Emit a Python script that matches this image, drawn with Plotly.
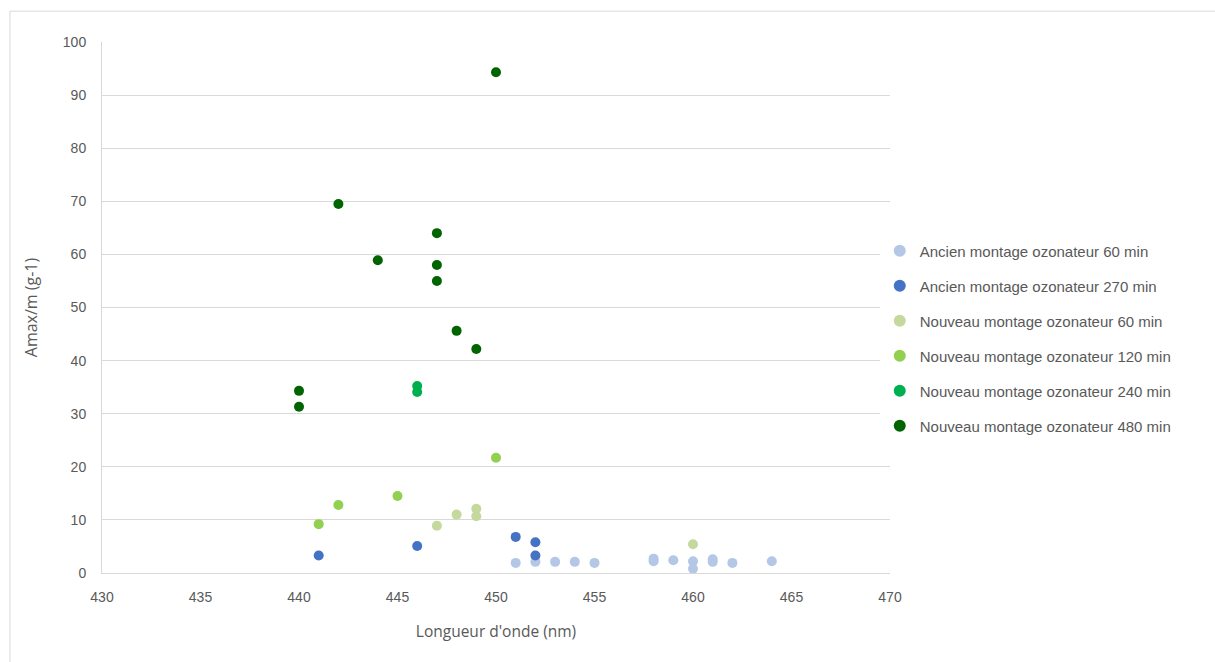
import plotly.graph_objects as go

names = [
    "Ancien montage ozonateur 60 min",
    "Ancien montage ozonateur 270 min",
    "Nouveau montage ozonateur 60 min",
    "Nouveau montage ozonateur 120 min",
    "Nouveau montage ozonateur 240 min",
    "Nouveau montage ozonateur 480 min",
]
colors = ["#B4C7E7", "#4472C4", "#C5D99E", "#92D050", "#00B050", "#006400"]

a60_x = [451, 452, 453, 454, 455, 458, 458, 459, 460, 460, 461, 461, 462, 464]
a60_y = [1.9, 2.1, 2.1, 2.1, 1.9, 2.2, 2.7, 2.4, 2.2, 0.8, 2.1, 2.6, 1.9, 2.2]
a270_x = [441, 446, 451, 452, 452]
a270_y = [3.3, 5.1, 6.8, 5.8, 3.3]
n60_x = [447, 448, 449, 449, 460]
n60_y = [8.9, 11.0, 12.1, 10.7, 5.4]
n120_x = [441, 442, 445, 450]
n120_y = [9.2, 12.8, 14.5, 21.7]
n240_x = [446, 446]
n240_y = [35.2, 34.1]
n480_x = [440, 440, 442, 444, 447, 447, 447, 448, 449, 450]
n480_y = [31.3, 34.3, 69.5, 58.9, 64.0, 58.0, 55.0, 45.6, 42.2, 94.3]

xs = [a60_x, a270_x, n60_x, n120_x, n240_x, n480_x]
ys = [a60_y, a270_y, n60_y, n120_y, n240_y, n480_y]

font_fam = "Liberation Sans, Arial"
title_fam = "Open Sans, Liberation Sans"
fig = go.Figure()
for i in range(6):
    fig.add_trace(go.Scatter(
        x=xs[i], y=ys[i], mode="markers", name=names[i], legendgroup=str(i),
        marker=dict(color=colors[i], size=10, line=dict(width=0)),
    ))

fig.update_layout(
    width=1215, height=662,
    paper_bgcolor="white", plot_bgcolor="white",
    margin=dict(l=102, r=325, t=42, b=89),
    font=dict(family=font_fam, size=14, color="#595959"),
    showlegend=True,
    legend=dict(x=0.987, y=0.6375, xanchor="left", yanchor="top",
                tracegroupgap=12.5, itemwidth=30,
                font=dict(size=15, color="#595959", family=font_fam),
                itemsizing="constant"),
    xaxis=dict(range=[430, 470], dtick=5, showgrid=False, zeroline=False,
               showline=True, linecolor="#D9D9D9", linewidth=1,
               ticks="", tickfont=dict(size=14), ticklabelstandoff=11,
               title=dict(text="Longueur d'onde (nm)", standoff=22,
                          font=dict(size=15.5, family=title_fam))),
    yaxis=dict(range=[0, 100], dtick=10, showgrid=True, gridcolor="#D9D9D9",
               zeroline=False, showline=True, linecolor="#D9D9D9", linewidth=1,
               ticks="", tickfont=dict(size=14), ticklabelstandoff=12,
               title=dict(text="Amax/m (g-1)", standoff=21,
                          font=dict(size=16, family=title_fam))),
    shapes=[dict(type="rect", xref="paper", yref="paper",
                 x0=-0.1168, x1=1.6, y0=-0.3, y1=1.058,
                 line=dict(color="#D9D9D9", width=1), fillcolor="rgba(0,0,0,0)")],
)
fig.write_html("out.html", config={"displayModeBar": False},
               post_script="document.body.style.margin='0px';")
